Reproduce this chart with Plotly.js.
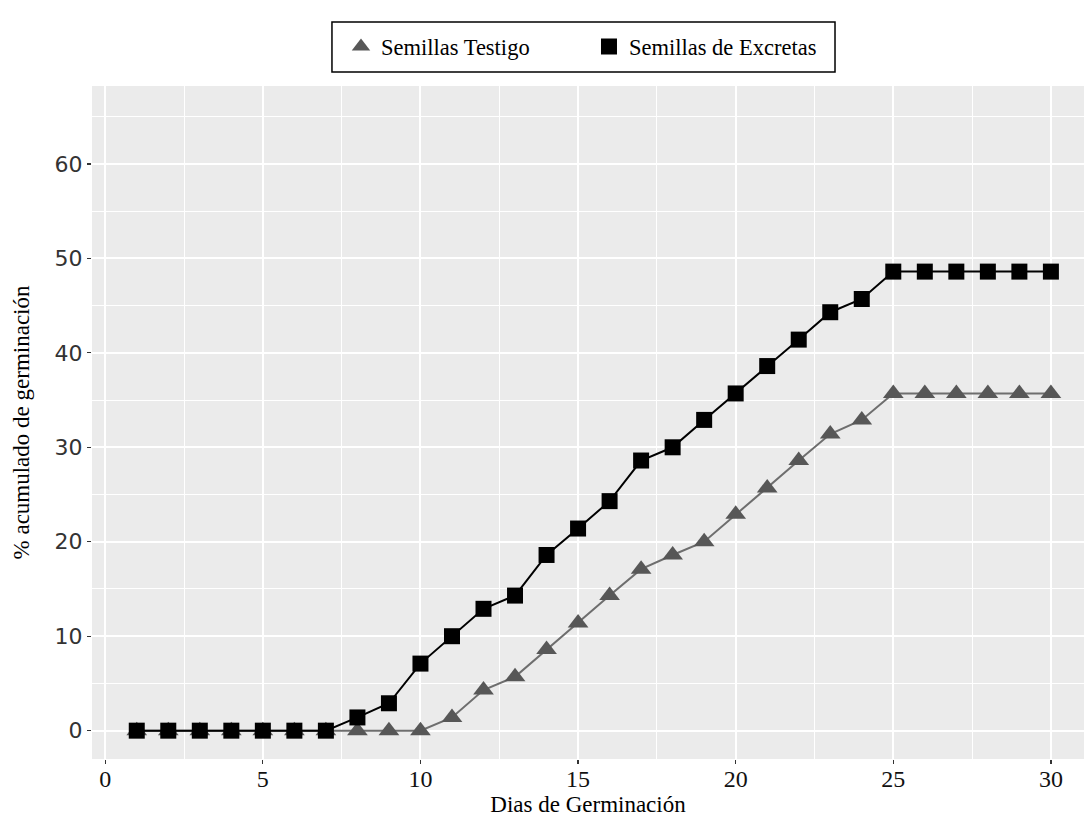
<!DOCTYPE html>
<html>
<head>
<meta charset="utf-8">
<script src="https://cdn.plot.ly/plotly-3.0.1.min.js"></script>
<style>html,body{margin:0;padding:0;background:#fff;}#chart{width:1084px;height:825px;}</style>
</head>
<body>
<div id="chart"></div>
<script>
const dias = [1,2,3,4,5,6,7,8,9,10,11,12,13,14,15,16,17,18,19,20,21,22,23,24,25,26,27,28,29,30];
const semillasTestigo = [0,0,0,0,0,0,0,0,0,0,1.4,4.3,5.7,8.6,11.4,14.3,17.1,18.6,20,22.9,25.7,28.6,31.4,32.9,35.7,35.7,35.7,35.7,35.7,35.7];
const semillasExcretas = [0,0,0,0,0,0,0,1.4,2.9,7.1,10,12.9,14.3,18.6,21.4,24.3,28.6,30,32.9,35.7,38.6,41.4,44.3,45.7,48.6,48.6,48.6,48.6,48.6,48.6];
const seriesNames = ["Semillas Testigo", "Semillas de Excretas"];
const xTicks = [0,5,10,15,20,25,30];
const yTicks = [0,10,20,30,40,50,60];

const serif = "Liberation Serif, Times New Roman, serif";

const triMarker = {symbol: "triangle-up", size: 18, color: "#575757", line: {width: 0}};
const sqMarker = {symbol: "square", size: 16, color: "#000000", line: {width: 0}};

const traces = [
  {
    x: dias, y: semillasTestigo, name: seriesNames[0], type: "scatter", mode: "lines+markers",
    line: {color: "#6e6e6e", width: 2}, marker: triMarker, showlegend: false
  },
  {
    x: dias, y: semillasExcretas, name: seriesNames[1], type: "scatter", mode: "lines+markers",
    line: {color: "#000000", width: 2}, marker: sqMarker, showlegend: false
  },
  // legend entries (markers only, as in the reference legend)
  {x: [null], y: [null], name: seriesNames[0], type: "scatter", mode: "markers",
   marker: {symbol: "triangle-up", size: 22, color: "#575757", line: {width: 0}}},
  {x: [null], y: [null], name: seriesNames[1], type: "scatter", mode: "markers",
   marker: {symbol: "square", size: 17, color: "#000000", line: {width: 0}}}
];

const layout = {
  width: 1084, height: 825,
  margin: {l: 92, r: 0, t: 86, b: 66, pad: 0},
  paper_bgcolor: "#ffffff",
  plot_bgcolor: "#EBEBEB",
  showlegend: true,
  legend: {
    orientation: "h", x: 0.251, xanchor: "left", y: 1.058, yanchor: "middle",
    bgcolor: "rgba(0,0,0,0)", borderwidth: 0,
    font: {family: serif, size: 22.5, color: "#000"},
    entrywidth: 203, entrywidthmode: "pixels",
    itemsizing: "trace"
  },
  shapes: [{
    type: "rect", xref: "paper", yref: "paper",
    x0: 0.2419, x1: 0.749, y0: 1.0208, y1: 1.0951,
    line: {color: "#000000", width: 1.5}, fillcolor: "rgba(0,0,0,0)", layer: "above"
  }],
  xaxis: {
    range: [-0.42, 31.05], tickvals: xTicks, ticktext: xTicks.map(String),
    showgrid: true, gridcolor: "#ffffff", gridwidth: 2,
    minor: {tickvals: [2.5,7.5,12.5,17.5,22.5,27.5], showgrid: true, gridcolor: "#ffffff", gridwidth: 1, ticks: ""},
    zeroline: false, showline: false,
    ticks: "outside", ticklen: 4, tickwidth: 1.2, tickcolor: "#333333",
    ticklabelstandoff: -6,
    tickfont: {family: serif, size: 24, color: "#111"},
    title: {text: "Dias de Germinación", font: {family: serif, size: 23, color: "#000"}, standoff: 0},
    automargin: false
  },
  yaxis: {
    range: [-3.0, 68.25], tickvals: yTicks, ticktext: yTicks.map(String),
    showgrid: true, gridcolor: "#ffffff", gridwidth: 2,
    minor: {tickvals: [5,15,25,35,45,55,65], showgrid: true, gridcolor: "#ffffff", gridwidth: 1, ticks: ""},
    zeroline: false, showline: false,
    ticks: "outside", ticklen: 4, tickwidth: 1.2, tickcolor: "#333333",
    tickfont: {family: "DejaVu Sans, sans-serif", size: 22, color: "#333"},
    title: {text: "% acumulado de germinación", font: {family: serif, size: 23, color: "#000"}, standoff: 18},
    automargin: false
  }
};

Plotly.newPlot("chart", traces, layout, {displayModeBar: false, staticPlot: true});
</script>
</body>
</html>
